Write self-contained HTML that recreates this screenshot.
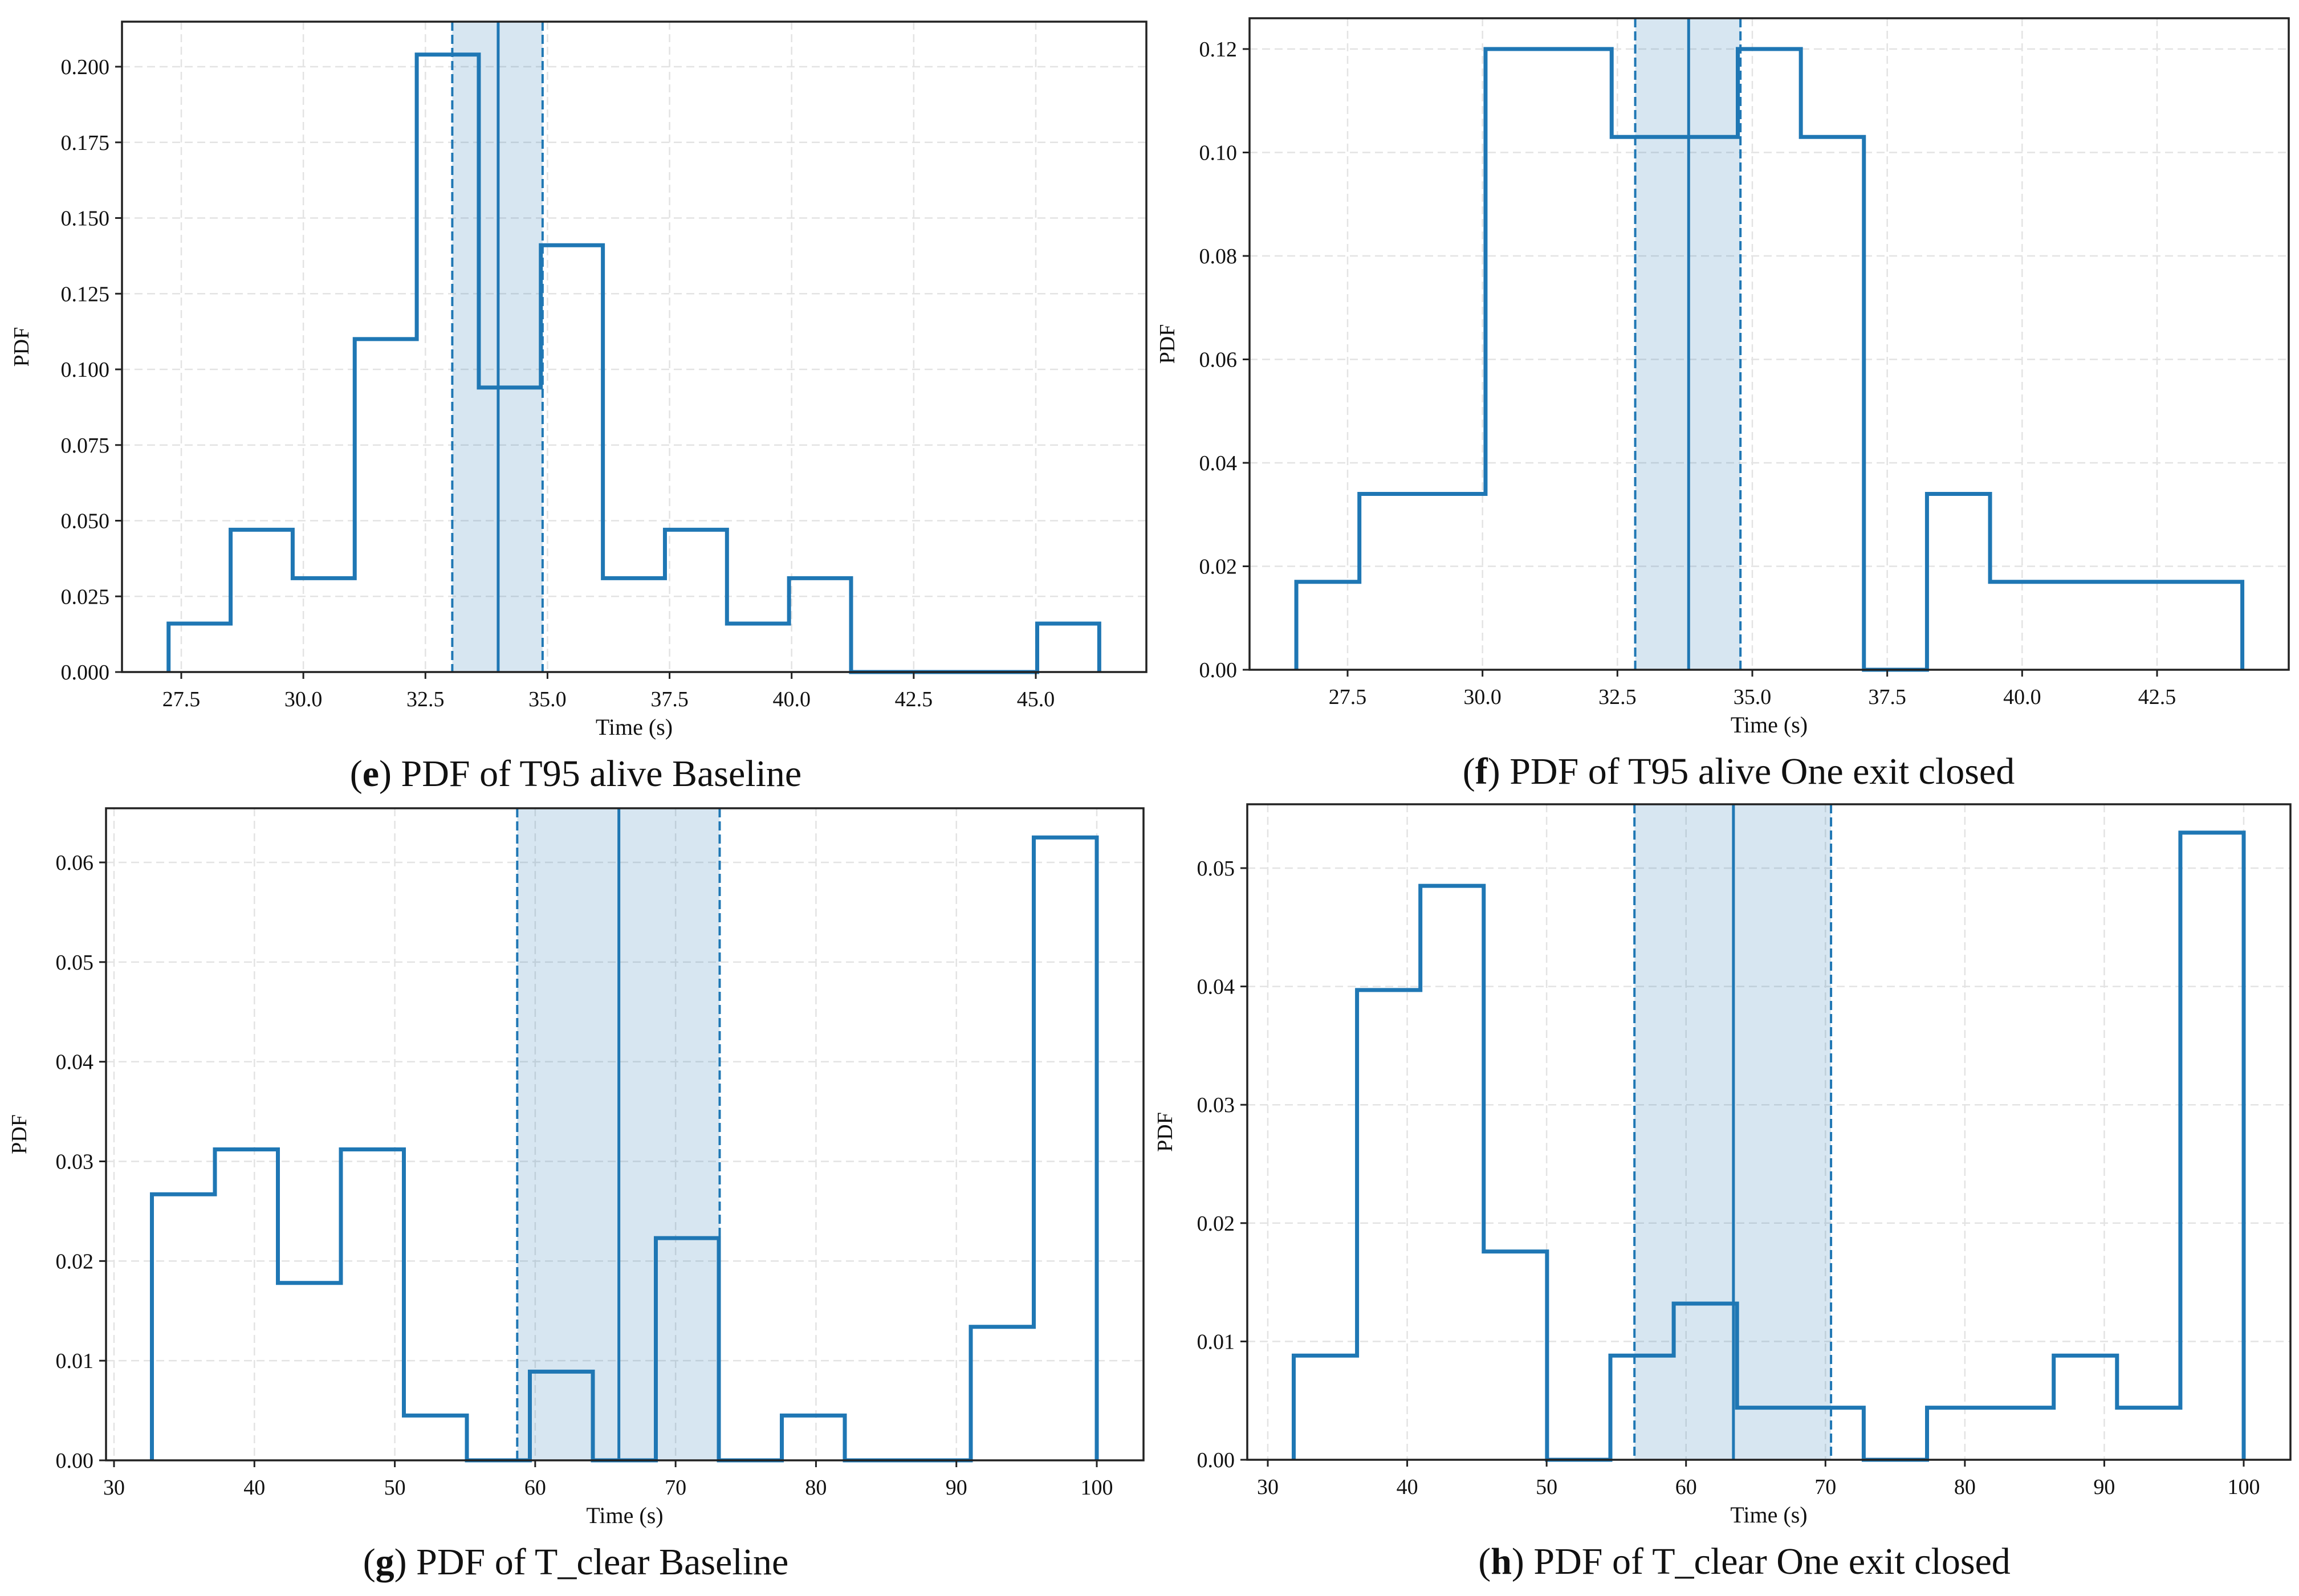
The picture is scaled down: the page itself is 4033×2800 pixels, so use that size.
<!DOCTYPE html>
<html><head><meta charset="utf-8"><style>
html,body{margin:0;padding:0;background:#fff;}
svg{display:block;font-family:"Liberation Serif",serif;}
</style></head><body>
<svg id="fig" width="4033" height="2800" viewBox="0 0 4033 2800" xmlns="http://www.w3.org/2000/svg"></svg>
<script>
// Panel e
const eEdgeStart = 27.24, eEdgeEnd = 46.3;
const eValues = [0.016,0.047,0.031,0.110,0.204,0.094,0.141,0.031,0.047,0.016,0.031,0,0,0,0.016];
const eStats = [33.99, 33.05, 34.9];
const eXTicks = [27.5,30.0,32.5,35.0,37.5,40.0,42.5,45.0];
const eYTicks = [0,0.025,0.05,0.075,0.1,0.125,0.15,0.175,0.2];
// Panel f
const fEdgeStart = 26.55, fEdgeEnd = 44.08;
const fValues = [0.017,0.034,0.034,0.120,0.120,0.103,0.103,0.120,0.103,0,0.034,0.017,0.017,0.017,0.017];
const fStats = [33.82, 32.83, 34.78];
const fXTicks = [27.5,30.0,32.5,35.0,37.5,40.0,42.5];
const fYTicks = [0,0.02,0.04,0.06,0.08,0.10,0.12];
// Panel g
const gEdgeStart = 32.7, gEdgeEnd = 100;
const gValues = [0.0267,0.0312,0.0178,0.0312,0.0045,0,0.0089,0,0.0223,0,0.0045,0,0,0.0134,0.0625];
const gStats = [65.96, 58.72, 73.14];
const gXTicks = [30,40,50,60,70,80,90,100];
const gYTicks = [0,0.01,0.02,0.03,0.04,0.05,0.06];
// Panel h
const hEdgeStart = 31.86, hEdgeEnd = 100;
const hValues = [0.0088,0.0397,0.0485,0.0176,0,0.0088,0.0132,0.0044,0.0044,0,0.0044,0.0044,0.0088,0.0044,0.053];
const hStats = [63.4, 56.3, 70.4];
const hXTicks = [30,40,50,60,70,80,90,100];
const hYTicks = [0,0.01,0.02,0.03,0.04,0.05];

const NS = "http://www.w3.org/2000/svg";
const svg = document.getElementById('fig');
function mk(tag, attrs, parent){
  const el = document.createElementNS(NS, tag);
  for (const k in attrs) el.setAttribute(k, attrs[k]);
  (parent||svg).appendChild(el);
  return el;
}
const C = '#1f77b4';

function panel(cfg){
  const g = mk('g', {});
  
  
  const X = v => cfg.px0 + (v - cfg.xv0) / (cfg.xv1 - cfg.xv0) * (cfg.px1 - cfg.px0);
  const Y = v => cfg.py0 + (v - cfg.yv0) / (cfg.yv1 - cfg.yv0) * (cfg.py1 - cfg.py0);
  cfg.xTicks.forEach(t => {
    const l = mk('line', {x1:X(t), x2:X(t), y1:cfg.top, y2:cfg.bottom, stroke:'#e3e3e3', 'stroke-width':2.5, 'stroke-dasharray':'14,8'}, g);
    
    
  });
  cfg.yTicks.forEach(t => {
    const l = mk('line', {x1:cfg.left, x2:cfg.right, y1:Y(t), y2:Y(t), stroke:'#e3e3e3', 'stroke-width':2.5, 'stroke-dasharray':'14,8'}, g);
    
    
  });
  const band = mk('rect', {x:X(cfg.stats[1]), y:cfg.top, width:X(cfg.stats[2])-X(cfg.stats[1]), height:cfg.bottom-cfg.top, fill:C, 'fill-opacity':0.18}, g);
  
  
  const n = cfg.values.length, w = (cfg.e1 - cfg.e0) / n;
  let d = 'M' + X(cfg.e0) + ',' + Y(0);
  cfg.values.forEach((v, i) => {
    d += ' L' + X(cfg.e0 + i*w) + ',' + Y(v) + ' L' + X(cfg.e0 + (i+1)*w) + ',' + Y(v);
  });
  d += ' L' + X(cfg.e1) + ',' + Y(0);
  const p = mk('path', {d:d, fill:'none', stroke:C, 'stroke-width':7, 'stroke-linejoin':'miter'}, g);
  
  
  const m = mk('line', {x1:X(cfg.stats[0]), x2:X(cfg.stats[0]), y1:cfg.top, y2:cfg.bottom, stroke:C, 'stroke-width':5}, g);
  
  
  [1,2].forEach(k => {
    const l = mk('line', {x1:X(cfg.stats[k]), x2:X(cfg.stats[k]), y1:cfg.top, y2:cfg.bottom, stroke:C, 'stroke-width':4, 'stroke-dasharray':'16,7'}, g);
    
    
  });
  const fr = mk('rect', {x:cfg.left, y:cfg.top, width:cfg.right-cfg.left, height:cfg.bottom-cfg.top, fill:'none', stroke:'#222', 'stroke-width':3.5}, g);
  
  
  cfg.xTicks.forEach(t => {
    mk('line', {x1:X(t), x2:X(t), y1:cfg.bottom, y2:cfg.bottom+12, stroke:'#222', 'stroke-width':3}, g);
    const tx = mk('text', {x:X(t), y:cfg.bottom+60, 'font-size':38, 'text-anchor':'middle', fill:'#111'}, g);
    tx.textContent = cfg.xFmt(t);
    
    
  });
  cfg.yTicks.forEach(t => {
    mk('line', {x1:cfg.left-12, x2:cfg.left, y1:Y(t), y2:Y(t), stroke:'#222', 'stroke-width':3}, g);
    const tx = mk('text', {x:cfg.left-22, y:Y(t)+13, 'font-size':38, 'text-anchor':'end', fill:'#111'}, g);
    tx.textContent = t.toFixed(cfg.yDec);
    
    
  });
  const xl = mk('text', {x:(cfg.left+cfg.right)/2, y:cfg.bottom+110, 'font-size':40, 'text-anchor':'middle', fill:'#111'}, g);
  xl.textContent = 'Time (s)';
  
  
  const yl = mk('text', {x:0, y:0, 'font-size':38, 'text-anchor':'middle', fill:'#111', transform:'translate(' + cfg.ylx + ',' + (cfg.top+cfg.bottom)/2 + ') rotate(-90)'}, g);
  yl.textContent = 'PDF';
  
  
  const cap = mk('text', {x:cfg.capX, y:cfg.bottom+200, 'font-size':66, 'text-anchor':'middle', fill:'#111'}, g);
  
  
  const t1 = mk('tspan', {}, cap); t1.textContent = '(';
  const t2 = mk('tspan', {'font-weight':'bold'}, cap); t2.textContent = cfg.id;
  const t3 = mk('tspan', {}, cap); t3.textContent = ') ' + cfg.caption;
}

const f1 = v => v.toFixed(1), f0 = v => v.toFixed(0);
panel({id:'e', left:214, right:2011, top:38, bottom:1179, px0:318, px1:1817, xv0:27.5, xv1:45, py0:1179, py1:117, yv0:0, yv1:0.2,
  e0:eEdgeStart, e1:eEdgeEnd, values:eValues, stats:eStats, xTicks:eXTicks, yTicks:eYTicks, xFmt:f1, yDec:3, ylx:50, capX:1010, caption:'PDF of T95 alive Baseline'});
panel({id:'f', left:2192, right:4015, top:32, bottom:1175, px0:2364, px1:3784, xv0:27.5, xv1:42.5, py0:1175, py1:86, yv0:0, yv1:0.12,
  e0:fEdgeStart, e1:fEdgeEnd, values:fValues, stats:fStats, xTicks:fXTicks, yTicks:fYTicks, xFmt:f1, yDec:2, ylx:2060, capX:3050, caption:'PDF of T95 alive One exit closed'});
panel({id:'g', left:186, right:2006, top:1418, bottom:2562, px0:200, px1:1924, xv0:30, xv1:100, py0:2562, py1:1513, yv0:0, yv1:0.06,
  e0:gEdgeStart, e1:gEdgeEnd, values:gValues, stats:gStats, xTicks:gXTicks, yTicks:gYTicks, xFmt:f0, yDec:2, ylx:46, capX:1010, caption:'PDF of T_clear Baseline'});
panel({id:'h', left:2188, right:4018, top:1411, bottom:2561, px0:2224, px1:3936, xv0:30, xv1:100, py0:2561, py1:1523, yv0:0, yv1:0.05,
  e0:hEdgeStart, e1:hEdgeEnd, values:hValues, stats:hStats, xTicks:hXTicks, yTicks:hYTicks, xFmt:f0, yDec:2, ylx:2056, capX:3060, caption:'PDF of T_clear One exit closed'});
</script>
</body></html>
